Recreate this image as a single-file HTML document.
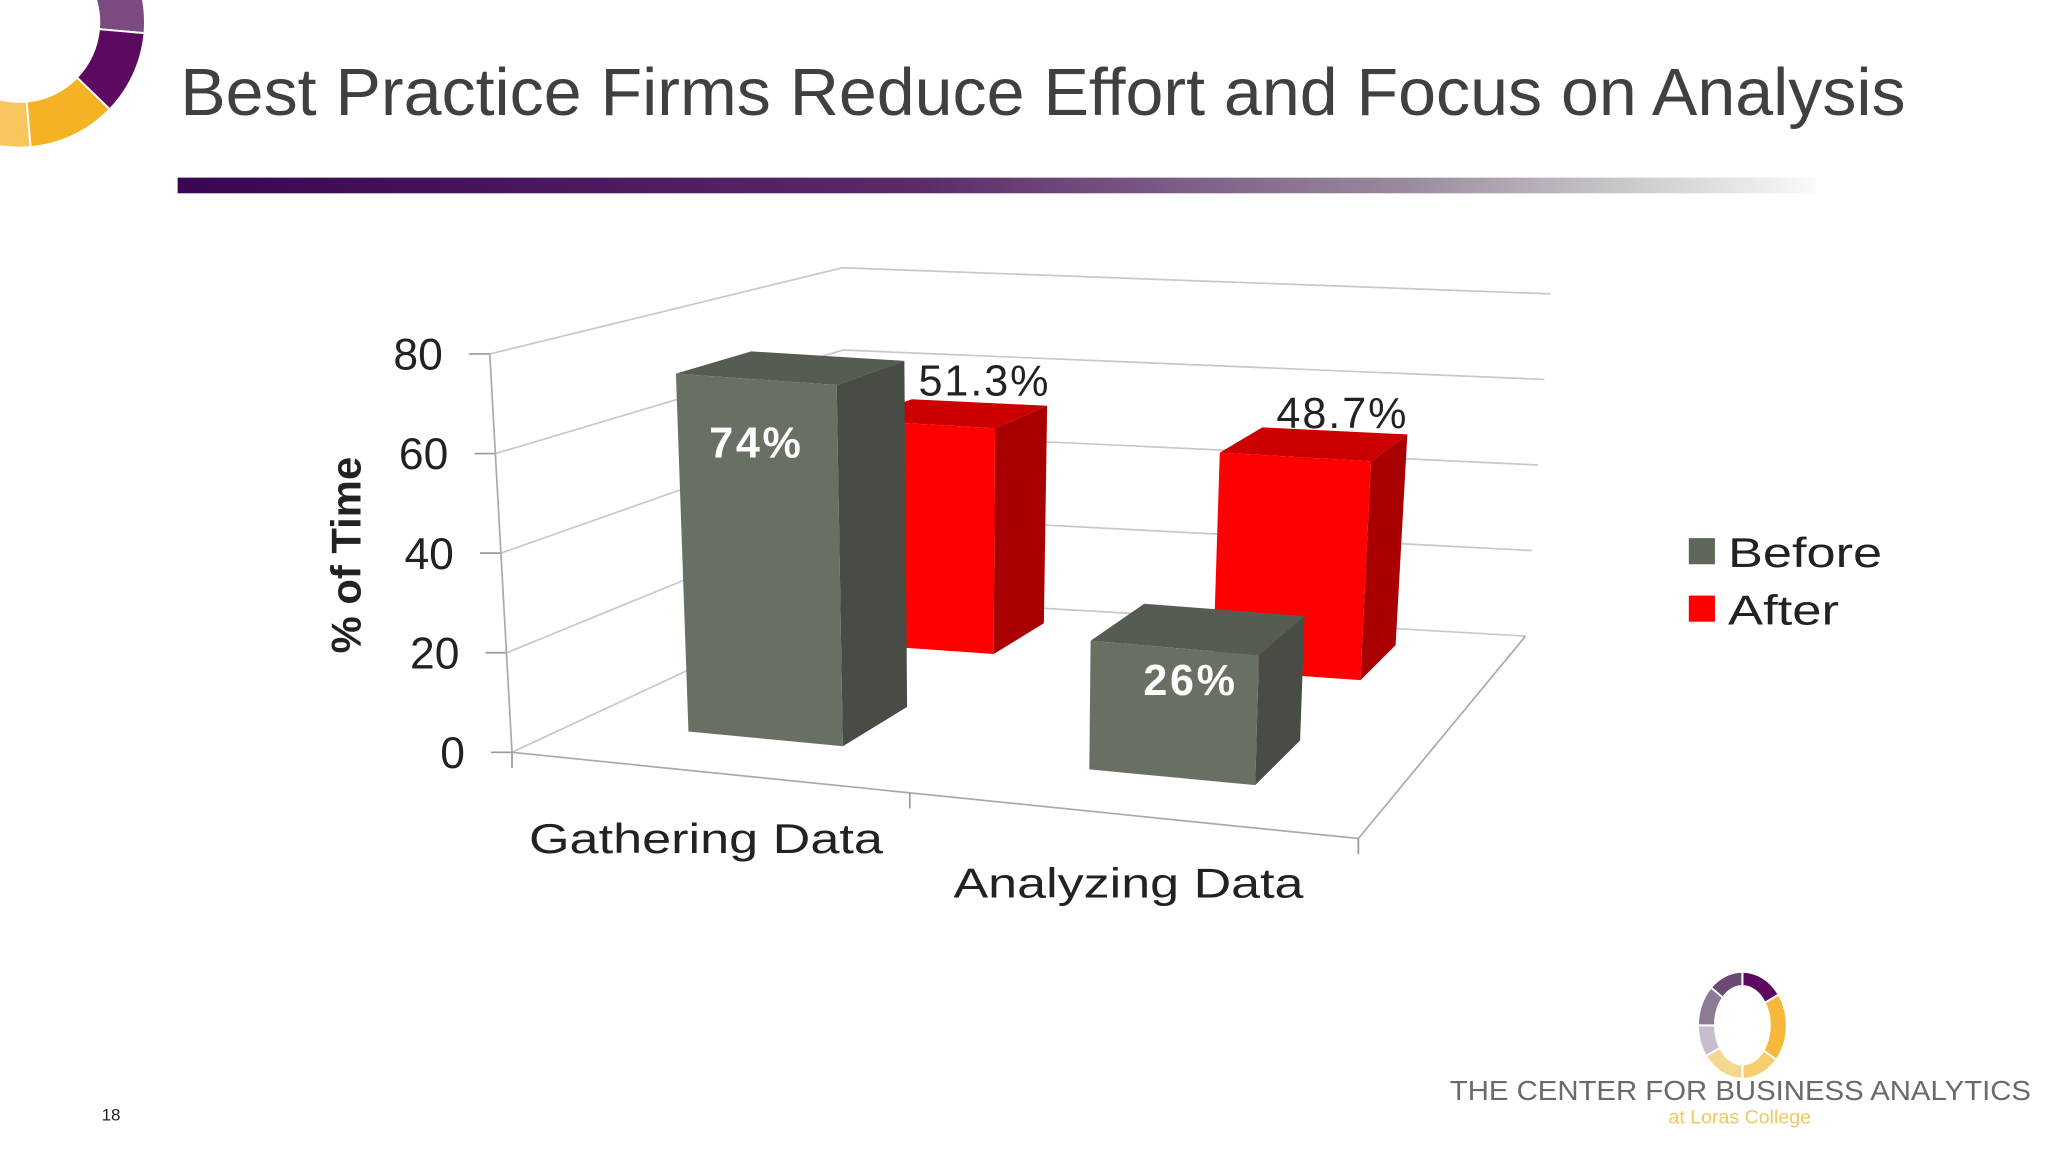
<!DOCTYPE html>
<html><head><meta charset="utf-8"><style>
html,body{margin:0;padding:0;background:#fff;}
svg{display:block;font-family:"Liberation Sans",sans-serif;}
</style></head><body>
<svg id="s" width="2048" height="1152" viewBox="0 0 1568 882" preserveAspectRatio="none" xmlns="http://www.w3.org/2000/svg">
<defs>
<linearGradient id="gb" x1="0" x2="1" y1="0" y2="0">
<stop offset="0" stop-color="#3a0552"/><stop offset="0.45" stop-color="#5a2a6a"/><stop offset="0.75" stop-color="#9a8a9e"/><stop offset="0.92" stop-color="#d8d8d8"/><stop offset="1" stop-color="#fafafa"/>
</linearGradient>
</defs>
<g id="logo-tl"></g>
<text x="138" y="88" font-size="51" fill="#404040" textLength="1321" lengthAdjust="spacingAndGlyphs">Best Practice Firms Reduce Effort and Focus on Analysis</text>
<rect x="136" y="136" width="1254" height="12" fill="url(#gb)"/>
<g id="chart"></g>
<g>
<g><rect x="1293" y="412" width="20" height="20" fill="#5f675b"/><text x="1323" y="434" font-size="32" fill="#222" textLength="118" lengthAdjust="spacingAndGlyphs">Before</text></g>
<g><rect x="1293" y="456" width="20" height="20" fill="#f00"/><text x="1323" y="478" font-size="32" fill="#222" textLength="85" lengthAdjust="spacingAndGlyphs">After</text></g>
</g>
<g id="logo-br"></g>
<text x="1110" y="842" font-size="21" fill="#6a6a6a" textLength="445" lengthAdjust="spacingAndGlyphs">THE CENTER FOR BUSINESS ANALYTICS</text>
<text x="1332" y="860" font-size="15" fill="#f0c860" text-anchor="middle">at Loras College</text>
<text x="85" y="858" font-size="13" fill="#222" text-anchor="middle">18</text>
</svg>
<script>
const categories = ["Gathering Data", "Analyzing Data"];
const series = ["Before", "After"];
const beforeValues = [74, 26];
const afterValues = [51.3, 48.7];
const beforeLabels = ["74%", "26%"];
const afterLabels = ["51.3%", "48.7%"];
const yTicks = [0, 20, 40, 60, 80];

const NS = "http://www.w3.org/2000/svg";
const VMAX = 80;
const B = {FL:[392,576],FR:[1040,642],BL:[647,457],BR:[1168,487]};
const T = {FL:[375,271],FR:[1052,322],BL:[645,205],BR:[1187,225]};
function bil(c,u,d){
  const r=[0,0];
  for(let i=0;i<2;i++){
    r[i]=c.FL[i]*(1-u)*(1-d)+c.FR[i]*u*(1-d)+c.BL[i]*(1-u)*d+c.BR[i]*u*d;
  }
  return r;
}
function P(u,d,val){
  const t=val/VMAX, a=bil(B,u,d), b=bil(T,u,d);
  return [a[0]+(b[0]-a[0])*t, a[1]+(b[1]-a[1])*t];
}
function el(tag,attrs,parent){
  const e=document.createElementNS(NS,tag);
  for(const k in attrs) e.setAttribute(k,attrs[k]);
  parent.appendChild(e); return e;
}
function pts(a){return a.map(p=>p[0].toFixed(1)+","+p[1].toFixed(1)).join(" ");}
const chart=document.getElementById("chart");

yTicks.forEach(v=>{
  const g=el("polyline",{points:pts([P(0,0,v),P(0,1,v),P(1,1,v)]),fill:"none",stroke:"#c8c8c8","stroke-width":1.3},chart);
  
  
  const a=P(0,0,v);
  const tk=el("line",{x1:a[0]-16,y1:a[1],x2:a[0],y2:a[1],stroke:"#999","stroke-width":1.3},chart);
  
  
  const tl=el("text",{x:a[0]-36,y:a[1]+12,"font-size":34,fill:"#222","text-anchor":"end"},chart);
  tl.textContent=v;
  
  
});
const fl=el("polyline",{points:pts([P(0,0,0),P(1,0,0),P(1,1,0)]),fill:"none",stroke:"#aaa","stroke-width":1.3},chart);


const ax=el("line",{x1:P(0,0,0)[0],y1:P(0,0,0)[1],x2:P(0,0,VMAX)[0],y2:P(0,0,VMAX)[1],stroke:"#aaa","stroke-width":1.3},chart);


[0,0.47,1].forEach(u=>{
  const a=P(u,0,0);
  const t=el("line",{x1:a[0],y1:a[1],x2:a[0],y2:a[1]+12,stroke:"#999","stroke-width":1.3},chart);
  
  
});
const yt=el("text",{x:0,y:0,"font-size":32,"font-weight":"bold",fill:"#222","text-anchor":"middle",transform:"translate(276,425) rotate(-90)"},chart);
yt.textContent="% of Time";


const catPos=[[405,653,271],[730,687,268]];
categories.forEach((c,i)=>{
  const t=el("text",{x:catPos[i][0],y:catPos[i][1],"font-size":32,fill:"#222",textLength:catPos[i][2],lengthAdjust:"spacingAndGlyphs"},chart);
  t.textContent=c;
  
  
});
const uRange=[[0.135,0.325],[0.628,0.832]];
const depth={Before:[0.2,0.43],After:[0.74,0.92]};
const colors={Before:["#687064","#474d45","#555c52"],After:["#ff0000","#a80000","#cc0000"]};
function bar(ci,s,val,label,lblColor,bold,lblOffset){
  const [u0,u1]=uRange[ci],[d0,d1]=depth[s],c=colors[s];
  const g=el("g",{},chart);
  
  
  el("polygon",{points:pts([P(u1,d0,0),P(u1,d1,0),P(u1,d1,val),P(u1,d0,val)]),fill:c[1]},g);
  el("polygon",{points:pts([P(u0,d0,val),P(u1,d0,val),P(u1,d1,val),P(u0,d1,val)]),fill:c[2]},g);
  el("polygon",{points:pts([P(u0,d0,0),P(u1,d0,0),P(u1,d0,val),P(u0,d0,val)]),fill:c[0]},g);
  const top=P((u0+u1)/2,d0,val);
  const t=el("text",{x:top[0]+lblOffset[0],y:top[1]+lblOffset[1],"font-size":33,fill:lblColor,"text-anchor":"middle","font-weight":bold?"bold":"normal","letter-spacing":bold?2:1.5},chart);
  t.textContent=label;
  
  
}
const afterOff=[[46,-22],[36,-22]];
const beforeOff=[[0,60],[12,36]];
afterValues.forEach((v,i)=>bar(i,"After",v,afterLabels[i],"#222",false,afterOff[i]));
beforeValues.forEach((v,i)=>bar(i,"Before",v,beforeLabels[i],"#fff",true,beforeOff[i]));

function ring(parent,cx,cy,rx,ry,irx,iry,segs){
  segs.forEach(s=>{
    const [a0,a1,col]=s, r0=a0*Math.PI/180, r1=a1*Math.PI/180;
    const p=(r,x,y)=>[cx+x*Math.cos(r),cy+y*Math.sin(r)];
    const A=p(r0,rx,ry),Bp=p(r1,rx,ry),C=p(r1,irx,iry),D=p(r0,irx,iry);
    const lg=(a1-a0)>180?1:0;
    el("path",{d:`M${A} A${rx},${ry} 0 ${lg} 1 ${Bp} L${C} A${irx},${iry} 0 ${lg} 0 ${D} Z`,fill:col,stroke:"#fff","stroke-width":1.5},parent);
  });
}
ring(document.getElementById("logo-tl"),15,17,96,96,61,61,[[-90,5,"#7b4a80"],[5,44,"#5c0a60"],[44,85,"#f5b324"],[85,150,"#f8c45c"]]);
ring(document.getElementById("logo-br"),1334,785,34,41,21,30,[[-90,-35,"#5c0a60"],[-35,40,"#f5b83a"],[40,90,"#f7cd70"],[90,145,"#f5d890"],[145,180,"#c8bccc"],[180,225,"#8a7a92"],[225,270,"#6a4a72"]]);
</script>
</body></html>
